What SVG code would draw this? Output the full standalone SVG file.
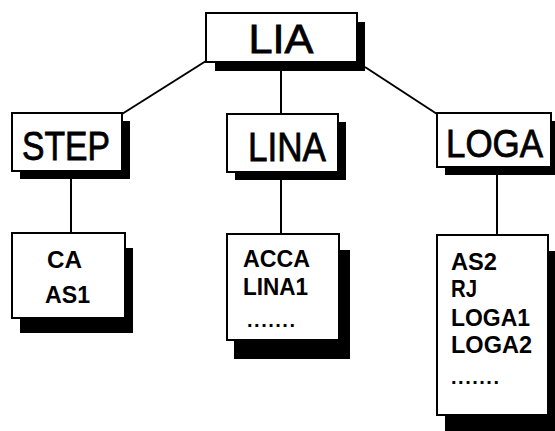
<svg xmlns="http://www.w3.org/2000/svg" width="555" height="431" viewBox="0 0 555 431">
<style>
.box{fill:#fff;stroke:#000;stroke-width:2}
.sh{fill:#000}
.t{font-family:"Liberation Sans",Arial,sans-serif;font-size:40px;fill:#000;stroke:#000;stroke-width:0.8}
.c{font-family:"Liberation Sans",Arial,sans-serif;font-size:24px;font-weight:bold;fill:#000}
.d{font-family:"Liberation Sans",Arial,sans-serif;font-size:20px;font-weight:bold;fill:#000}
.ln{stroke:#000;stroke-width:2;fill:none}
</style>
<rect width="555" height="431" fill="#fff"/>
<g id="connectors">
<line class="ln" x1="206" y1="61" x2="122" y2="114"/>
<line class="ln" x1="281" y1="71" x2="281" y2="114"/>
<line class="ln" x1="365" y1="67" x2="437" y2="114"/>
<line class="ln" x1="71" y1="178" x2="71" y2="233"/>
<line class="ln" x1="281" y1="178" x2="281" y2="234"/>
<line class="ln" x1="497" y1="175" x2="497" y2="235"/>
</g>
<g id="LIA">
<rect class="sh" x="215" y="22" width="150" height="49"/>
<rect class="box" x="206" y="13" width="151" height="49"/>
<text class="t" x="281" y="53" text-anchor="middle" textLength="65" lengthAdjust="spacingAndGlyphs">LIA</text>
</g>
<g id="STEP">
<rect class="sh" x="20" y="121" width="110" height="58"/>
<rect class="box" x="12" y="113" width="110" height="58"/>
<text class="t" x="22" y="160" textLength="88" lengthAdjust="spacingAndGlyphs">STEP</text>
</g>
<g id="LINA">
<rect class="sh" x="235" y="122" width="111" height="58"/>
<rect class="box" x="227" y="114" width="111" height="58"/>
<text class="t" x="248" y="161" textLength="78" lengthAdjust="spacingAndGlyphs">LINA</text>
</g>
<g id="LOGA">
<rect class="sh" x="445" y="121" width="110" height="54"/>
<rect class="box" x="437" y="113" width="114" height="54"/>
<text class="t" x="446" y="157" style="font-size:38px" textLength="97" lengthAdjust="spacingAndGlyphs">LOGA</text>
</g>
<g id="STEP-children">
<rect class="sh" x="20" y="248" width="113" height="85"/>
<rect class="box" x="12" y="233" width="113" height="85"/>
<text class="c" x="47" y="268" textLength="35" lengthAdjust="spacingAndGlyphs">CA</text>
<text class="c" x="45" y="303" textLength="45" lengthAdjust="spacingAndGlyphs">AS1</text>
</g>
<g id="LINA-children">
<rect class="sh" x="234" y="250" width="116" height="109"/>
<rect class="box" x="227" y="234" width="112" height="106"/>
<text class="c" x="243" y="267" textLength="67" lengthAdjust="spacingAndGlyphs">ACCA</text>
<text class="c" x="243" y="295" textLength="65" lengthAdjust="spacingAndGlyphs">LINA1</text>
<text class="d" x="247" y="327" textLength="48" lengthAdjust="spacing">.......</text>
</g>
<g id="LOGA-children">
<rect class="sh" x="445" y="251" width="110" height="180"/>
<rect class="box" x="437" y="235" width="111" height="180"/>
<text class="c" x="451" y="270" textLength="46" lengthAdjust="spacingAndGlyphs">AS2</text>
<text class="c" x="451" y="297" textLength="26" lengthAdjust="spacingAndGlyphs">RJ</text>
<text class="c" x="451" y="326" textLength="79" lengthAdjust="spacingAndGlyphs">LOGA1</text>
<text class="c" x="451" y="353" textLength="81" lengthAdjust="spacingAndGlyphs">LOGA2</text>
<text class="d" x="451" y="384" textLength="48" lengthAdjust="spacing">.......</text>
</g>
</svg>
